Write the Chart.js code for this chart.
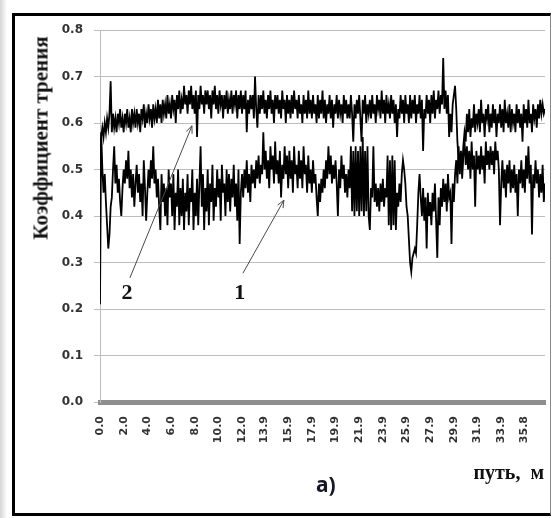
<!DOCTYPE html>
<html>
<head>
<meta charset="utf-8">
<script src="https://cdn.jsdelivr.net/npm/chart.js@4.4.1/dist/chart.umd.min.js"></script>
<style>
  html, body { margin: 0; padding: 0; background: #fff; }
  #page { position: relative; width: 553px; height: 518px; overflow: hidden; background: #fff; }
  #shade { position: absolute; left: 0; top: 0; width: 7px; height: 518px;
    background: linear-gradient(to right, #d6d6d6, #fff); }
  #frame { position: absolute; left: 12px; top: 13px; width: 535px; height: 497px;
    border: 3px solid #000; border-right: 1px solid #888; }
  canvas { position: absolute; left: 0; top: 0; }
  .lbl { position: absolute; font-family: "Liberation Serif", "Times New Roman", serif;
    font-weight: bold; color: #111; white-space: pre; line-height: 1; }
  #ytitle { left: 41px; top: 138px; font-size: 21px;
    transform: translate(-50%, -50%) rotate(-90deg); }
  #xtitle { right: 9px; top: 462px; font-size: 20px; }
  #part { position: absolute; left: 316px; top: 474px; font-family: "Noto Sans", "Open Sans", sans-serif;
    font-weight: bold; font-size: 21px; line-height: 1; color: #16162a; }
</style>
</head>
<body>
<div id="page">
  <div id="shade"></div>
  <div id="frame"></div>
  <canvas id="chart" width="553" height="518"></canvas>
  <div class="lbl" id="ytitle">Коэффициент трения</div>
  <div class="lbl" id="xtitle">путь,  м</div>
  <div id="part">а)</div>
</div>
<script>
// sampling step along the path, m
const STEP = 0.1;

// path labels on the x axis, m
const pathTicks = [0.0, 2.0, 4.0, 6.0, 8.0, 10.0, 12.0, 13.9, 15.9, 17.9,
  19.9, 21.9, 23.9, 25.9, 27.9, 29.9, 31.9, 33.9, 35.8];

const frictionTicks = [0.0, 0.1, 0.2, 0.3, 0.4, 0.5, 0.6, 0.7, 0.8];

// curve 2 (upper band), one row per metre
const curve2 = [
  0.50, 0.57, 0.59, 0.57, 0.60, 0.58, 0.61, 0.59, 0.62, 0.69,
  0.58, 0.62, 0.59, 0.61, 0.58, 0.62, 0.60, 0.63, 0.59, 0.61,
  0.58, 0.62, 0.60, 0.63, 0.59, 0.61, 0.58, 0.63, 0.60, 0.62,
  0.59, 0.63, 0.60, 0.62, 0.58, 0.63, 0.61, 0.64, 0.59, 0.62,
  0.60, 0.64, 0.61, 0.63, 0.59, 0.64, 0.61, 0.63, 0.60, 0.65,
  0.61, 0.64, 0.60, 0.65, 0.62, 0.64, 0.61, 0.66, 0.62, 0.64,
  0.61, 0.66, 0.63, 0.65, 0.60, 0.66, 0.63, 0.67, 0.62, 0.65,
  0.63, 0.68, 0.64, 0.66, 0.62, 0.67, 0.64, 0.68, 0.63, 0.66,
  0.62, 0.67, 0.57, 0.66, 0.63, 0.68, 0.64, 0.66, 0.62, 0.67,
  0.64, 0.67, 0.63, 0.66, 0.61, 0.67, 0.64, 0.68, 0.63, 0.66,
  0.62, 0.67, 0.64, 0.66, 0.61, 0.66, 0.63, 0.67, 0.62, 0.65,
  0.63, 0.67, 0.62, 0.66, 0.64, 0.67, 0.61, 0.66, 0.63, 0.67,
  0.62, 0.66, 0.63, 0.67, 0.58, 0.65, 0.62, 0.66, 0.63, 0.66,
  0.61, 0.70, 0.63, 0.59, 0.66, 0.62, 0.66, 0.63, 0.67, 0.62,
  0.65, 0.61, 0.66, 0.63, 0.67, 0.62, 0.65, 0.60, 0.66, 0.63,
  0.66, 0.62, 0.65, 0.61, 0.67, 0.63, 0.65, 0.60, 0.66, 0.62,
  0.65, 0.61, 0.66, 0.62, 0.67, 0.63, 0.65, 0.61, 0.66, 0.62,
  0.64, 0.60, 0.66, 0.62, 0.65, 0.61, 0.67, 0.62, 0.65, 0.61,
  0.66, 0.62, 0.64, 0.60, 0.66, 0.61, 0.65, 0.62, 0.67, 0.61,
  0.65, 0.60, 0.64, 0.62, 0.66, 0.61, 0.65, 0.59, 0.64, 0.62,
  0.66, 0.61, 0.65, 0.62, 0.64, 0.60, 0.66, 0.62, 0.65, 0.61,
  0.64, 0.61, 0.66, 0.62, 0.56, 0.64, 0.61, 0.65, 0.62, 0.66,
  0.61, 0.56, 0.65, 0.62, 0.66, 0.60, 0.64, 0.62, 0.65, 0.61,
  0.66, 0.62, 0.64, 0.60, 0.66, 0.63, 0.65, 0.61, 0.67, 0.62,
  0.65, 0.60, 0.66, 0.62, 0.64, 0.61, 0.66, 0.62, 0.65, 0.60,
  0.64, 0.57, 0.63, 0.61, 0.66, 0.62, 0.65, 0.60, 0.66, 0.62,
  0.64, 0.60, 0.66, 0.61, 0.65, 0.62, 0.66, 0.60, 0.64, 0.62,
  0.66, 0.61, 0.65, 0.54, 0.63, 0.61, 0.66, 0.62, 0.65, 0.60,
  0.66, 0.62, 0.67, 0.61, 0.65, 0.63, 0.67, 0.62, 0.66, 0.64,
  0.74, 0.63, 0.67, 0.62, 0.66, 0.57, 0.62, 0.58, 0.64, 0.66,
  0.68, 0.63, 0.56, 0.52, 0.49, 0.53, 0.50, 0.55, 0.58, 0.56,
  0.62, 0.58, 0.63, 0.57, 0.61, 0.59, 0.64, 0.58, 0.62, 0.60,
  0.63, 0.58, 0.65, 0.60, 0.62, 0.57, 0.63, 0.61, 0.64, 0.58,
  0.62, 0.59, 0.64, 0.60, 0.63, 0.57, 0.62, 0.60, 0.64, 0.59,
  0.63, 0.58, 0.65, 0.60, 0.62, 0.59, 0.64, 0.58, 0.63, 0.60,
  0.62, 0.58, 0.64, 0.60, 0.63, 0.59, 0.62, 0.56, 0.64, 0.60,
  0.63, 0.59, 0.65, 0.60, 0.62, 0.58, 0.64, 0.61, 0.63, 0.59,
  0.64, 0.61, 0.65, 0.62, 0.64, 0.62, 0.63
];

// curve 1 (lower band), one row per metre
const curve1 = [
  0.21, 0.58, 0.50, 0.45, 0.49, 0.43, 0.38, 0.33, 0.36, 0.42,
  0.44, 0.50, 0.55, 0.47, 0.51, 0.45, 0.48, 0.43, 0.40, 0.46,
  0.50, 0.47, 0.52, 0.48, 0.54, 0.46, 0.50, 0.44, 0.49, 0.42,
  0.47, 0.51, 0.45, 0.49, 0.43, 0.47, 0.40, 0.52, 0.46, 0.39,
  0.45, 0.50, 0.46, 0.52, 0.48, 0.55, 0.47, 0.50, 0.44, 0.48,
  0.42, 0.37, 0.49, 0.43, 0.47, 0.40, 0.46, 0.38, 0.50, 0.44,
  0.47, 0.40, 0.49, 0.37, 0.45, 0.42, 0.50, 0.38, 0.46, 0.40,
  0.48, 0.37, 0.45, 0.41, 0.49, 0.38, 0.46, 0.43, 0.50, 0.37,
  0.45, 0.40, 0.48, 0.38, 0.47, 0.55, 0.42, 0.49, 0.37, 0.46,
  0.41, 0.50, 0.38, 0.47, 0.43, 0.51, 0.39, 0.46, 0.42, 0.50,
  0.44, 0.48, 0.39, 0.51, 0.45, 0.47, 0.40, 0.50, 0.43, 0.49,
  0.41, 0.48, 0.44, 0.51, 0.42, 0.47, 0.39, 0.50, 0.34, 0.45,
  0.49, 0.44, 0.50, 0.46, 0.52, 0.45, 0.49, 0.43, 0.51, 0.47,
  0.50, 0.46, 0.52, 0.48, 0.53, 0.47, 0.51, 0.49, 0.58, 0.50,
  0.54, 0.48, 0.52, 0.46, 0.55, 0.50, 0.53, 0.47, 0.56, 0.49,
  0.52, 0.47, 0.54, 0.44, 0.51, 0.48, 0.55, 0.49, 0.53, 0.46,
  0.54, 0.48, 0.52, 0.45, 0.55, 0.49, 0.51, 0.46, 0.54, 0.48,
  0.52, 0.46, 0.55, 0.49, 0.51, 0.45, 0.53, 0.47, 0.50, 0.45,
  0.52, 0.47, 0.49, 0.44, 0.40, 0.47, 0.43, 0.48, 0.45, 0.50,
  0.46, 0.52, 0.48, 0.55, 0.49, 0.53, 0.47, 0.51, 0.48, 0.52,
  0.47, 0.40, 0.50, 0.46, 0.53, 0.48, 0.51, 0.45, 0.49, 0.44,
  0.50, 0.46, 0.55, 0.41, 0.54, 0.40, 0.55, 0.41, 0.54, 0.40,
  0.55, 0.41, 0.57, 0.40, 0.54, 0.41, 0.55, 0.40, 0.37, 0.46,
  0.44, 0.55, 0.43, 0.47, 0.42, 0.46, 0.41, 0.47, 0.43, 0.48,
  0.42, 0.46, 0.44, 0.53, 0.38, 0.52, 0.37, 0.53, 0.38, 0.52,
  0.37, 0.45, 0.42, 0.47, 0.43, 0.49, 0.52, 0.50, 0.47, 0.42,
  0.40, 0.35, 0.30, 0.28, 0.31, 0.32, 0.33, 0.32, 0.38, 0.45,
  0.49, 0.44, 0.40, 0.46, 0.39, 0.44, 0.33, 0.45, 0.40, 0.43,
  0.38, 0.45, 0.41, 0.47, 0.39, 0.31, 0.44, 0.38, 0.46, 0.42,
  0.48, 0.43, 0.47, 0.41, 0.49, 0.44, 0.45, 0.34, 0.47, 0.43,
  0.49, 0.52, 0.47, 0.55, 0.50, 0.54, 0.48, 0.53, 0.56, 0.51,
  0.55, 0.50, 0.54, 0.48, 0.56, 0.50, 0.53, 0.42, 0.54, 0.50,
  0.53, 0.49, 0.55, 0.50, 0.53, 0.47, 0.56, 0.51, 0.54, 0.50,
  0.55, 0.51, 0.54, 0.49, 0.56, 0.52, 0.54, 0.50, 0.38, 0.47,
  0.52, 0.46, 0.50, 0.44, 0.51, 0.47, 0.52, 0.45, 0.50, 0.46,
  0.51, 0.45, 0.49, 0.40, 0.50, 0.47, 0.52, 0.46, 0.50, 0.45,
  0.53, 0.48, 0.55, 0.47, 0.51, 0.36, 0.49, 0.46, 0.52, 0.47,
  0.50, 0.44, 0.49, 0.45, 0.51, 0.43, 0.47
];

// callouts: number label and arrow, in axis units (m, friction)
const callouts = [
  { text: '2', at: [2.28, 0.234], from: [2.53, 0.267], to: [7.77, 0.594] },
  { text: '1', at: [11.8, 0.234], from: [12.08, 0.277], to: [15.54, 0.434] }
];

const toPoints = (arr) => arr.map((v, i) => ({ x: +(i * STEP).toFixed(1), y: v }));

const calloutPlugin = {
  id: 'callouts',
  afterDatasetsDraw(chart) {
    const { ctx, scales: { x, y } } = chart;
    ctx.save();
    ctx.strokeStyle = '#4a4a4a';
    ctx.lineWidth = 1;
    callouts.forEach((c) => {
      const x0 = x.getPixelForValue(c.from[0]), y0 = y.getPixelForValue(c.from[1]);
      const x1 = x.getPixelForValue(c.to[0]), y1 = y.getPixelForValue(c.to[1]);
      const ang = Math.atan2(y1 - y0, x1 - x0);
      ctx.beginPath();
      ctx.moveTo(x0, y0);
      ctx.lineTo(x1, y1);
      ctx.moveTo(x1 - 8 * Math.cos(ang - 0.4), y1 - 8 * Math.sin(ang - 0.4));
      ctx.lineTo(x1, y1);
      ctx.lineTo(x1 - 8 * Math.cos(ang + 0.4), y1 - 8 * Math.sin(ang + 0.4));
      ctx.stroke();
    });
    ctx.fillStyle = '#111';
    ctx.font = 'bold 22px "Liberation Serif", serif';
    ctx.textAlign = 'center';
    ctx.textBaseline = 'middle';
    callouts.forEach((c) => {
      ctx.fillText(c.text, x.getPixelForValue(c.at[0]), y.getPixelForValue(c.at[1]));
    });
    ctx.restore();
  }
};

new Chart(document.getElementById('chart'), {
  type: 'line',
  data: {
    datasets: [
      { label: '1', data: toPoints(curve1), borderColor: '#000', borderWidth: 1.8, pointRadius: 0 },
      { label: '2', data: toPoints(curve2), borderColor: '#000', borderWidth: 1.8, pointRadius: 0 }
    ]
  },
  options: {
    responsive: false,
    animation: false,
    devicePixelRatio: 1,
    layout: { padding: { top: 30, right: 8, left: 0, bottom: 0 } },
    plugins: { legend: { display: false }, tooltip: { enabled: false } },
    elements: { line: { tension: 0 } },
    scales: {
      x: {
        type: 'linear',
        min: 0,
        max: 37.6,
        afterBuildTicks: (scale) => { scale.ticks = pathTicks.map((v) => ({ value: v })); },
        afterFit: (scale) => { scale.height = 116; },
        grid: { display: false },
        border: { display: true, color: '#8e8e8e', width: 5 },
        ticks: {
          autoSkip: false,
          minRotation: 90,
          maxRotation: 90,
          padding: 6,
          color: '#333',
          font: { family: 'DejaVu Sans', weight: 'bold', size: 11 },
          callback: (v) => Number(v).toFixed(1)
        }
      },
      y: {
        min: 0,
        max: 0.8,
        afterBuildTicks: (scale) => { scale.ticks = frictionTicks.map((v) => ({ value: v })); },
        afterFit: (scale) => { scale.width = 100; },
        grid: { color: '#bdbdbd', lineWidth: 1, tickLength: 6 },
        border: { display: true, color: '#bdbdbd', width: 1 },
        ticks: {
          padding: 11,
          color: '#333',
          font: { family: 'DejaVu Sans', weight: 'bold', size: 12 },
          callback: (v) => Number(v).toFixed(1)
        }
      }
    }
  },
  plugins: [calloutPlugin]
});
</script>
</body>
</html>
